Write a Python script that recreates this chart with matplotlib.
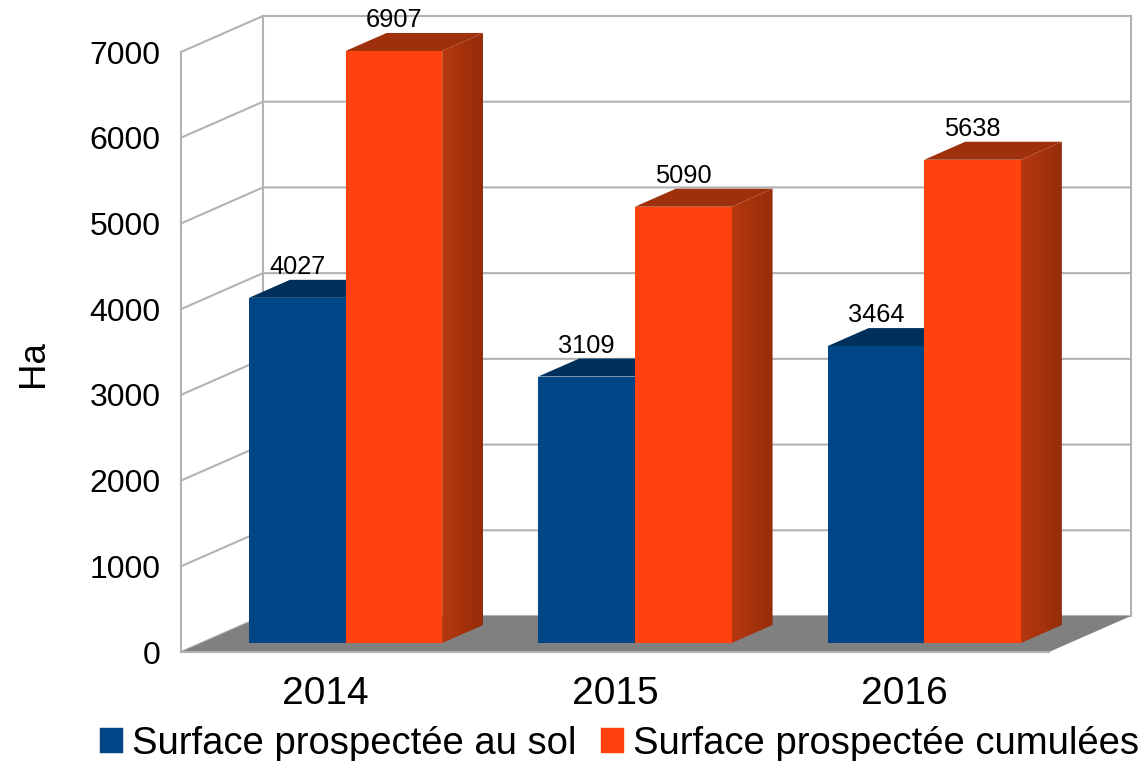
import matplotlib
matplotlib.use("Agg")
import matplotlib.pyplot as plt
from matplotlib.patches import Polygon, Patch
from matplotlib.path import Path
from matplotlib.colors import LinearSegmentedColormap
import numpy as np

years = ["2014", "2015", "2016"]
series_names = ["Surface prospectée au sol", "Surface prospectée cumulées"]
sol = [4027, 3109, 3464]
cumul = [6907, 5090, 5638]
yticks = [0, 1000, 2000, 3000, 4000, 5000, 6000, 7000]

W, H = 1146, 761
plt.rcParams['font.family'] = ['Liberation Sans', 'DejaVu Sans']
fig = plt.figure(figsize=(W / 100, H / 100), dpi=100, facecolor='white')
ax = fig.add_axes([181 / W, 1 - 652 / H, 868 / W, 600 / H])
ax.set_xlim(0, 3)
ax.set_ylim(0, 7000)
for s in ax.spines.values():
    s.set_visible(False)
ax.patch.set_visible(False)

DX = 82 / 868 * 3      # full depth in x data units
DY = 36 / 600 * 7000   # full depth in y data units
GRID = '#B3B3B3'
LW = 1.5


def proj(x, y, d):
    return (x + DX * d, y + DY * d)


def poly(pts, **kw):
    kw.setdefault('clip_on', False)
    ax.add_patch(Polygon(pts, closed=True, **kw))


# floor
poly([proj(0, 0, 0), proj(3, 0, 0), proj(3, 0, 1), proj(0, 0, 1)],
     facecolor='#808080', edgecolor='none', zorder=1)
# walls
for v in yticks:
    a, b, c = proj(0, v, 0), proj(0, v, 1), proj(3, v, 1)
    ax.plot([a[0], b[0], c[0]], [a[1], b[1], c[1]], color=GRID, lw=LW, clip_on=False, zorder=0.5)
top = yticks[-1]
for x, d in [(0, 0), (0, 1), (3, 1)]:
    p0, p1 = proj(x, 0, d), proj(x, top, d)
    ax.plot([p0[0], p1[0]], [p0[1], p1[1]], color=GRID, lw=LW, clip_on=False, zorder=0.5)
ax.plot([0, 3], [0, 0], color=GRID, lw=LW, clip_on=False, zorder=1.2)

BW = 0.334
D0, D1 = 0.25, 0.75
side_cmap = LinearSegmentedColormap.from_list('side', ['#B5380F', '#962D0A'])


def bar3d(x, v, front, top_col, z):
    poly([proj(x, 0, D0), proj(x + BW, 0, D0), proj(x + BW, v, D0), proj(x, v, D0)],
         facecolor=front, edgecolor='none', zorder=z + 0.2)
    poly([proj(x, v, D0), proj(x + BW, v, D0), proj(x + BW, v, D1), proj(x, v, D1)],
         facecolor=top_col, edgecolor='none', zorder=z)


def side(x, v, z):
    """Shaded right-hand face of an orange bar."""
    pts = [proj(x + BW, 0, D0), proj(x + BW, 0, D1), proj(x + BW, v, D1),
           proj(x + BW, v, D0), proj(x + BW, 0, D0)]
    xs = [p[0] for p in pts]
    ys = [p[1] for p in pts]
    im = ax.imshow(np.linspace(0, 1, 64).reshape(1, -1), cmap=side_cmap, aspect='auto',
                   extent=(min(xs), max(xs), min(ys), max(ys)), zorder=z + 0.1,
                   interpolation='bilinear')
    im.set_clip_box(fig.bbox)
    im.set_clip_path(Path(pts), transform=ax.transData)


for i in range(len(years)):
    x1 = i + 0.164
    x2 = x1 + BW
    bar3d(x1, sol[i], '#004586', '#00305C', 2 + i)
    bar3d(x2, cumul[i], '#FF420E', '#9E300B', 2.5 + i)
    side(x2, cumul[i], 2.5 + i)
    for x, v in [(x1, sol[i]), (x2, cumul[i])]:
        cx, cy = proj(x + BW / 2, v, D0)
        ax.annotate(str(v), (cx, cy), xytext=(0, 17.2), textcoords='offset points',
                    ha='center', va='baseline', fontsize=18.3, color='black',
                    zorder=10, annotation_clip=False)

ax.set_xlim(0, 3)
ax.set_ylim(0, 7000)
ax.set_yticks(yticks)
ax.set_yticklabels([str(v) for v in yticks], fontsize=23)
ax.set_xticks(np.arange(len(years)) + 0.5)
ax.set_xticklabels(years, fontsize=28)
ax.tick_params(axis='y', length=0, pad=14.5)
ax.tick_params(axis='x', length=0, pad=17)
fig.text(33 / W, 1 - 364 / H, "Ha", rotation=90, fontsize=26.5, ha='center', va='center')

handles = [Patch(facecolor='#004586', edgecolor='#004586', lw=0.3),
           Patch(facecolor='#FF420E', edgecolor='#FF420E', lw=0.3)]
fs = 27.5
leg = fig.legend(handles, series_names, loc='center left',
                 bbox_to_anchor=(100 / W, 1 - 744 / H), bbox_transform=fig.transFigure,
                 ncol=2, fontsize=fs, frameon=False, borderpad=0, borderaxespad=0,
                 handlelength=16.5 / fs, handleheight=16.5 / fs, handletextpad=6.5 / fs,
                 columnspacing=18 / fs, labelspacing=0)

fig.savefig("out.png", dpi=100, facecolor='white')
